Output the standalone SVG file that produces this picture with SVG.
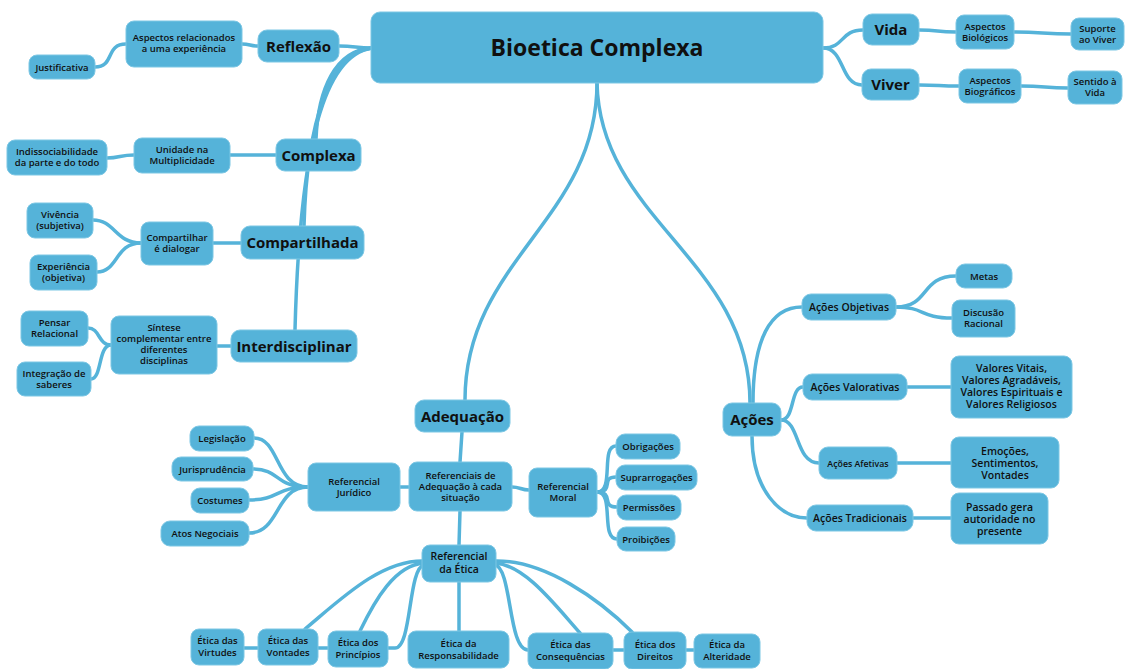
<svg xmlns="http://www.w3.org/2000/svg" width="1126" height="669" viewBox="0 0 1126 669">
<style>
.n{fill:#55b3d9;stroke:#7cc7e4;stroke-width:1}
.c{fill:none;stroke:#55b3d9;stroke-width:3.5;stroke-linecap:round}
text{font-family:"Open Sans","DejaVu Sans",sans-serif;fill:#101010;text-anchor:middle}
.t0{font-size:23px;font-weight:700}
.t1{font-size:15px;font-weight:700}
.s{font-size:9.5px;font-weight:600}
.m{font-size:10.5px;font-weight:600}
</style>
<rect width="1126" height="669" fill="#ffffff"/>
<g id="connectors">
<path class="c" d="M339,46 C355,46 356,48 372,48"/>
<path class="c" d="M372,48 C335,50 318,90 316,139"/>
<path class="c" d="M372,48 C330,52 307,120 304,226"/>
<path class="c" d="M372,48 C325,55 300,140 295,330"/>
<path class="c" d="M258,46 C250,46 250,44 242,44"/>
<path class="c" d="M126,44 C105,44 115,67 95,67"/>
<path class="c" d="M276,155 L230,155"/>
<path class="c" d="M134,155 C120,155 120,158 107,158"/>
<path class="c" d="M241,243 L213,243"/>
<path class="c" d="M141,243 C115,243 115,220 93,220"/>
<path class="c" d="M141,243 C115,243 118,272 97,272"/>
<path class="c" d="M231,346 L217,346"/>
<path class="c" d="M111,345 C98,345 100,328 88,328"/>
<path class="c" d="M111,345 C98,345 102,379 91,379"/>
<path class="c" d="M823,48 C845,48 840,30 863,30"/>
<path class="c" d="M823,48 C845,48 840,85 862,85"/>
<path class="c" d="M919,30 C940,30 935,32 956,32"/>
<path class="c" d="M1014,32 C1040,32 1045,34 1071,34"/>
<path class="c" d="M919,85 C940,85 938,86 959,86"/>
<path class="c" d="M1021,86 C1045,86 1045,88 1068,88"/>
<path class="c" d="M597,83 C597,220 465,260 465,400"/>
<path class="c" d="M597,83 C600,220 750,260 750,403"/>
<path class="c" d="M753,403 C753,340 770,307 802,307"/>
<path class="c" d="M781,420 C795,420 790,387 803,387"/>
<path class="c" d="M781,420 C800,420 795,463 819,463"/>
<path class="c" d="M752,436 C752,490 780,518 807,518"/>
<path class="c" d="M896,307 C930,307 920,276 956,276"/>
<path class="c" d="M896,307 C925,307 920,318 952,318"/>
<path class="c" d="M907,387 L951,387"/>
<path class="c" d="M897,463 L951,463"/>
<path class="c" d="M913,518 L951,518"/>
<path class="c" d="M462,432 L460,462"/>
<path class="c" d="M409,487 L400,487"/>
<path class="c" d="M512,487 C520,487 521,490 529,490"/>
<path class="c" d="M460,511 L459,545"/>
<path class="c" d="M308,487 C275,487 280,438 254,438"/>
<path class="c" d="M308,487 C275,487 280,469 253,469"/>
<path class="c" d="M308,487 C275,487 280,500 249,500"/>
<path class="c" d="M308,487 C275,487 280,533 249,533"/>
<path class="c" d="M597,492 C615,492 600,446 616,446"/>
<path class="c" d="M597,492 C615,492 600,477 616,477"/>
<path class="c" d="M597,492 C615,492 600,507 617,507"/>
<path class="c" d="M597,492 C615,492 600,539 617,539"/>
<path class="c" d="M424,565 C408,568 412,648 395,648 L244,648"/>
<path class="c" d="M424,563 C395,565 375,600 360,631"/>
<path class="c" d="M424,561 C380,560 340,600 305,629"/>
<path class="c" d="M459,582 L459,631"/>
<path class="c" d="M495,565 C512,568 508,650 528,650 L694,650"/>
<path class="c" d="M495,563 C525,565 555,605 580,633"/>
<path class="c" d="M495,561 C545,560 600,600 632,632"/>
</g>
<g id="n-main"><rect class="n" x="371" y="12" width="452" height="71" rx="9"/><text class="t0" x="597" y="56">Bioetica Complexa</text></g>
<g id="n-reflexao"><rect class="n" x="258" y="30" width="81" height="32" rx="9"/><text class="t1" x="298.5" y="51.5">Reflexão</text></g>
<g id="n-complexa"><rect class="n" x="276" y="139" width="85" height="32" rx="9"/><text class="t1" x="318.5" y="160.5">Complexa</text></g>
<g id="n-compartilhada"><rect class="n" x="241" y="226" width="123" height="33" rx="9"/><text class="t1" x="302.5" y="248">Compartilhada</text></g>
<g id="n-interdisciplinar"><rect class="n" x="231" y="330" width="126" height="32" rx="9"/><text class="t1" x="294" y="351.5">Interdisciplinar</text></g>
<g id="n-vida"><rect class="n" x="863" y="14" width="56" height="31" rx="9"/><text class="t1" x="891" y="35">Vida</text></g>
<g id="n-viver"><rect class="n" x="862" y="69" width="57" height="31" rx="9"/><text class="t1" x="890.5" y="90">Viver</text></g>
<g id="n-adequacao"><rect class="n" x="415" y="400" width="95" height="32" rx="9"/><text class="t1" x="462.5" y="421.5">Adequação</text></g>
<g id="n-acoes"><rect class="n" x="723" y="403" width="58" height="33" rx="9"/><text class="t1" x="752" y="425">Ações</text></g>
<g id="n-aspectos-rel"><rect class="n" x="126" y="21" width="116" height="46" rx="8"/><text class="s" x="184" y="41">Aspectos relacionados<tspan x="184" dy="11">a uma experiência</tspan></text></g>
<g id="n-justificativa"><rect class="n" x="29" y="55" width="66" height="24" rx="8"/><text class="s" x="62" y="70.5">Justificativa</text></g>
<g id="n-unidade"><rect class="n" x="134" y="138" width="96" height="35" rx="8"/><text class="s" x="182" y="153">Unidade na<tspan x="182" dy="11">Multiplicidade</tspan></text></g>
<g id="n-indissociabilidade"><rect class="n" x="7" y="140" width="100" height="35" rx="8"/><text class="s" x="57" y="155">Indissociabilidade<tspan x="57" dy="11">da parte e do todo</tspan></text></g>
<g id="n-compartilhar"><rect class="n" x="141" y="222" width="72" height="43" rx="8"/><text class="s" x="177" y="241">Compartilhar<tspan x="177" dy="11">é dialogar</tspan></text></g>
<g id="n-vivencia"><rect class="n" x="27" y="203" width="66" height="35" rx="8"/><text class="s" x="60" y="218">Vivência<tspan x="60" dy="11">(subjetiva)</tspan></text></g>
<g id="n-experiencia"><rect class="n" x="30" y="255" width="67" height="35" rx="8"/><text class="s" x="63.5" y="270">Experiência<tspan x="63.5" dy="11">(objetiva)</tspan></text></g>
<g id="n-sintese"><rect class="n" x="111" y="316" width="106" height="58" rx="8"/><text class="s" x="164" y="331">Síntese<tspan x="164" dy="11">complementar entre</tspan><tspan x="164" dy="11">diferentes</tspan><tspan x="164" dy="11">disciplinas</tspan></text></g>
<g id="n-pensar"><rect class="n" x="21" y="311" width="67" height="35" rx="8"/><text class="s" x="54.5" y="326">Pensar<tspan x="54.5" dy="11">Relacional</tspan></text></g>
<g id="n-integracao"><rect class="n" x="17" y="362" width="74" height="34" rx="8"/><text class="s" x="54" y="376.5">Integração de<tspan x="54" dy="11">saberes</tspan></text></g>
<g id="n-biologicos"><rect class="n" x="956" y="15" width="58" height="34" rx="8"/><text class="s" x="985" y="29.5">Aspectos<tspan x="985" dy="11">Biológicos</tspan></text></g>
<g id="n-suporte"><rect class="n" x="1071" y="18" width="53" height="32" rx="8"/><text class="s" x="1097.5" y="31.5">Suporte<tspan x="1097.5" dy="11">ao Viver</tspan></text></g>
<g id="n-biograficos"><rect class="n" x="959" y="69" width="62" height="34" rx="8"/><text class="s" x="990" y="83.5">Aspectos<tspan x="990" dy="11">Biográficos</tspan></text></g>
<g id="n-sentido"><rect class="n" x="1068" y="71" width="54" height="33" rx="8"/><text class="s" x="1095" y="85">Sentido à<tspan x="1095" dy="11">Vida</tspan></text></g>
<g id="n-objetivas"><rect class="n" x="802" y="294" width="94" height="26" rx="9"/><text class="m" x="849" y="311">Ações Objetivas</text></g>
<g id="n-metas"><rect class="n" x="956" y="264" width="56" height="24" rx="9"/><text class="s" x="984" y="279.5">Metas</text></g>
<g id="n-discusao"><rect class="n" x="952" y="300" width="63" height="37" rx="8"/><text class="s" x="983.5" y="316">Discusão<tspan x="983.5" dy="11">Racional</tspan></text></g>
<g id="n-valorativas"><rect class="n" x="803" y="374" width="104" height="26" rx="9"/><text class="m" x="855" y="391">Ações Valorativas</text></g>
<g id="n-valores"><rect class="n" x="951" y="356" width="121" height="62" rx="8"/><text class="m" x="1011.5" y="372">Valores Vitais,<tspan x="1011.5" dy="12">Valores Agradáveis,</tspan><tspan x="1011.5" dy="12">Valores Espirituais e</tspan><tspan x="1011.5" dy="12">Valores Religiosos</tspan></text></g>
<g id="n-afetivas"><rect class="n" x="819" y="447" width="78" height="32" rx="9"/><text class="s" x="858" y="466.5" style="font-size:8.8px">Ações Afetivas</text></g>
<g id="n-emocoes"><rect class="n" x="951" y="437" width="108" height="51" rx="8"/><text class="m" x="1005" y="455">Emoções,<tspan x="1005" dy="12">Sentimentos,</tspan><tspan x="1005" dy="12">Vontades</tspan></text></g>
<g id="n-tradicionais"><rect class="n" x="807" y="505" width="106" height="26" rx="9"/><text class="m" x="860" y="522">Ações Tradicionais</text></g>
<g id="n-passado"><rect class="n" x="951" y="493" width="97" height="51" rx="8"/><text class="m" x="999.5" y="511">Passado gera<tspan x="999.5" dy="12">autoridade no</tspan><tspan x="999.5" dy="12">presente</tspan></text></g>
<g id="n-referenciais"><rect class="n" x="409" y="462" width="103" height="49" rx="8"/><text class="s" x="460.5" y="479">Referenciais de<tspan x="460.5" dy="11">Adequação à cada</tspan><tspan x="460.5" dy="11">situação</tspan></text></g>
<g id="n-juridico"><rect class="n" x="308" y="463" width="92" height="48" rx="8"/><text class="s" x="354" y="484.5">Referencial<tspan x="354" dy="11">Jurídico</tspan></text></g>
<g id="n-legislacao"><rect class="n" x="190" y="426" width="64" height="25" rx="9"/><text class="s" x="222" y="442">Legislação</text></g>
<g id="n-jurisprudencia"><rect class="n" x="172" y="457" width="81" height="24" rx="9"/><text class="s" x="212.5" y="472.5">Jurisprudência</text></g>
<g id="n-costumes"><rect class="n" x="191" y="488" width="58" height="25" rx="9"/><text class="s" x="220" y="504">Costumes</text></g>
<g id="n-atos"><rect class="n" x="161" y="521" width="88" height="25" rx="9"/><text class="s" x="205" y="537">Atos Negociais</text></g>
<g id="n-moral"><rect class="n" x="529" y="468" width="68" height="49" rx="8"/><text class="s" x="563" y="490">Referencial<tspan x="563" dy="11">Moral</tspan></text></g>
<g id="n-obrigacoes"><rect class="n" x="616" y="434" width="64" height="25" rx="9"/><text class="s" x="648" y="450">Obrigações</text></g>
<g id="n-suprarrogacoes"><rect class="n" x="616" y="465" width="81" height="25" rx="9"/><text class="s" x="656.5" y="481">Suprarrogações</text></g>
<g id="n-permissoes"><rect class="n" x="617" y="495" width="64" height="25" rx="9"/><text class="s" x="649" y="511">Permissões</text></g>
<g id="n-proibicoes"><rect class="n" x="617" y="527" width="58" height="24" rx="9"/><text class="s" x="646" y="542.5">Proibições</text></g>
<g id="n-ref-etica"><rect class="n" x="422" y="545" width="74" height="37" rx="8"/><text class="m" x="459" y="560">Referencial<tspan x="459" dy="13">da Ética</tspan></text></g>
<g id="n-virtudes"><rect class="n" x="191" y="629" width="53" height="36" rx="8"/><text class="s" x="217.5" y="644">Ética das<tspan x="217.5" dy="12">Virtudes</tspan></text></g>
<g id="n-vontades"><rect class="n" x="258" y="629" width="60" height="36" rx="8"/><text class="s" x="288" y="644">Ética das<tspan x="288" dy="12">Vontades</tspan></text></g>
<g id="n-principios"><rect class="n" x="328" y="631" width="60" height="36" rx="8"/><text class="s" x="358" y="646">Ética dos<tspan x="358" dy="12">Princípios</tspan></text></g>
<g id="n-responsabilidade"><rect class="n" x="408" y="631" width="101" height="37" rx="8"/><text class="s" x="458.5" y="646.5">Ética da<tspan x="458.5" dy="12">Responsabilidade</tspan></text></g>
<g id="n-consequencias"><rect class="n" x="528" y="633" width="85" height="36" rx="8"/><text class="s" x="570.5" y="648">Ética das<tspan x="570.5" dy="12">Consequências</tspan></text></g>
<g id="n-direitos"><rect class="n" x="624" y="632" width="62" height="37" rx="8"/><text class="s" x="655" y="647.5">Ética dos<tspan x="655" dy="12">Direitos</tspan></text></g>
<g id="n-alteridade"><rect class="n" x="694" y="634" width="66" height="34" rx="8"/><text class="s" x="727" y="648">Ética da<tspan x="727" dy="12">Alteridade</tspan></text></g>
</svg>
